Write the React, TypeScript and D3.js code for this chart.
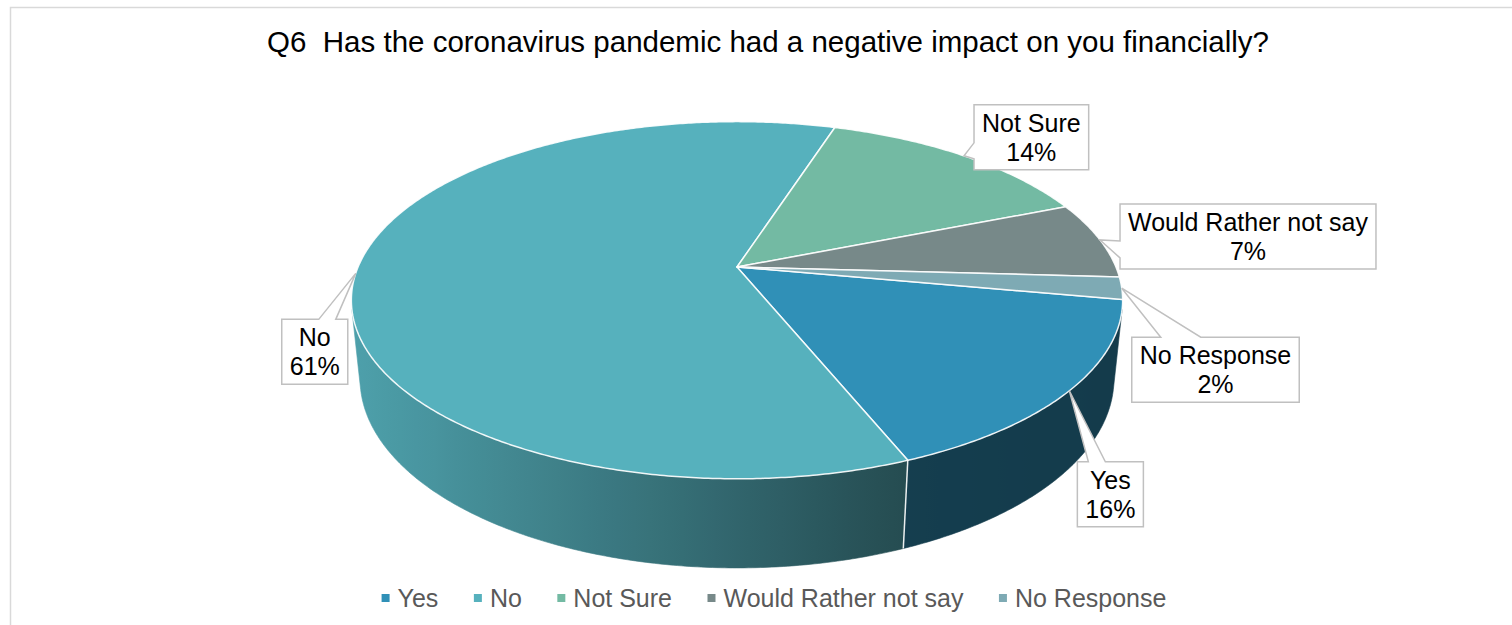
import React, { useMemo } from 'react';
import * as d3 from 'd3';

// ---- data ----
const categories = ['Yes', 'No', 'Not Sure', 'Would Rather not say', 'No Response'];
const percentages = [16, 61, 14, 7, 2];
const sliceColors = ['#3090b7', '#56b1bd', '#73baa3', '#778989', '#7eaab4'];
const titleText = 'Q6  Has the coronavirus pandemic had a negative impact on you financially?';

// ---- layout ----
const W = 1512;
const H = 625;
const CX = 737; // screen position of the pie's centre (top face)
const CY = 267;
const FOCAL = 1815; // perspective camera
const DIST = 4.79;
const SIN_T = 0.455;
const COS_T = Math.sqrt(1 - SIN_T * SIN_T);
const THICK = 0.235; // depth of the disc, in radius units
const START = (100.5 * Math.PI) / 180;
const FONT = '"Liberation Sans", Arial, sans-serif';
const LABEL_SIZE = 25;
const LEGEND_SIZE = 25;

// callout boxes, placed relative to the leader tip on the rim
const calloutLayout = [
  { dx: 8, dy: 71, side: 'top', b0: 11, b1: 28 },
  { dx: -74, dy: 46, side: 'top', b0: 37, b1: 54 },
  { dx: 10, dy: -51, side: 'left', b0: 38, b1: 54 },
  { dx: 20, dy: -36, side: 'left', b0: 37, b1: 54 },
  { dx: 10, dy: 49, side: 'top', b0: 29, b1: 69 },
];

// angle a: 0 = far side, clockwise seen from above; r: radius fraction; y: 0 = top face, negative = below
function project(a: number, y: number, r = 1): [number, number] {
  const X = r * Math.sin(a);
  const Z = -r * Math.cos(a);
  const depth = DIST - (y * SIN_T + Z * COS_T);
  const up = y * COS_T - Z * SIN_T;
  return [CX + (FOCAL * X) / depth, CY - (FOCAL * up) / depth];
}

function rim(a0: number, a1: number, y: number): [number, number][] {
  const n = Math.max(2, Math.ceil(((a1 - a0) * 180) / Math.PI / 0.5));
  const pts: [number, number][] = [];
  for (let i = 0; i <= n; i++) pts.push(project(a0 + ((a1 - a0) * i) / n, y));
  return pts;
}

const toPath = (pts: [number, number][]) =>
  'M' + pts.map((p) => `${p[0].toFixed(2)},${p[1].toFixed(2)}`).join('L') + 'Z';

function measure(text: string, size: number): number {
  const ctx = document.createElement('canvas').getContext('2d');
  if (!ctx) return text.length * size * 0.55;
  ctx.font = `${size}px "Liberation Sans"`;
  return ctx.measureText(text).width;
}

export default function App() {
  const arcs = useMemo(
    () =>
      d3
        .pie<number>()
        .sort(null)
        .value((d) => d)
        .startAngle(START)
        .endAngle(START + 2 * Math.PI)(percentages),
    []
  );

  // visible part of the outer wall
  const visA = Math.acos(-1 / (DIST * COS_T));
  const visB = 2 * Math.PI - visA;
  const radiusX = project(Math.PI / 2, 0)[0] - CX;
  const light = d3.scaleLinear().domain([-1, 0.43, 1]).range([0.9, 0.43, 0.41]).clamp(true);
  const shade = (c: string, f: number) => {
    const r = d3.rgb(c);
    return d3.rgb(r.r * f, r.g * f, r.b * f).formatHex();
  };

  const walls: { key: string; d: string; grad: string; stops: { o: number; c: string }[]; x1: number; x2: number }[] = [];
  const edges: [number, number][][] = [];
  arcs.forEach((arc, i) => {
    [0, 2 * Math.PI].forEach((off) => {
      const lo = Math.max(arc.startAngle, visA + off);
      const hi = Math.min(arc.endAngle, visB + off);
      if (hi > lo) {
        const top = rim(lo, hi, 0);
        const bottom = rim(lo, hi, -THICK).reverse();
        const xs = top.map((p) => p[0]).concat(bottom.map((p) => p[0]));
        const x1 = Math.min(...xs);
        const x2 = Math.max(...xs);
        const stops: { o: number; c: string }[] = [];
        const n = 24;
        for (let k = 0; k <= n; k++) {
          const a = lo + ((hi - lo) * k) / n;
          const sx = project(a, 0)[0];
          stops.push({
            o: x2 > x1 ? (sx - x1) / (x2 - x1) : 0,
            c: shade(sliceColors[i], light((sx - CX) / radiusX)),
          });
        }
        stops.sort((p, q) => p.o - q.o);
        walls.push({ key: `w${i}-${off}`, d: toPath(top.concat(bottom)), grad: `wallGrad${i}${off ? 'b' : 'a'}`, stops, x1, x2 });
      }
      const s = arc.startAngle;
      if (s > visA + off && s < visB + off && off === 0) {
        edges.push([project(s, 0), project(s, -THICK)]);
      }
    });
  });

  const apex = project(0, 0, 0);
  const tops = arcs.map((arc) => toPath([apex, ...rim(arc.startAngle, arc.endAngle, 0)]));

  const callouts = arcs.map((arc, i) => {
    const mid = (arc.startAngle + arc.endAngle) / 2;
    const [tx, ty] = project(mid, 0);
    const lay = calloutLayout[i];
    const lines = [categories[i], `${percentages[i]}%`];
    const w = Math.max(...lines.map((t) => measure(t, LABEL_SIZE))) + 16;
    const h = 65;
    const x = tx + lay.dx;
    const y = ty + lay.dy;
    let d: string;
    if (lay.side === 'top') {
      d = `M${x},${y}L${x + lay.b0},${y}L${tx},${ty}L${x + lay.b1},${y}L${x + w},${y}L${x + w},${y + h}L${x},${y + h}Z`;
    } else {
      d = `M${x},${y}L${x + w},${y}L${x + w},${y + h}L${x},${y + h}L${x},${y + lay.b1}L${tx},${ty}L${x},${y + lay.b0}Z`;
    }
    return { d, x, y, w, lines };
  });

  // legend row
  const markerSize = 8;
  const markerGap = 8;
  const itemGap = 35.5;
  const widths = categories.map((c) => measure(c, LEGEND_SIZE));
  const total = widths.reduce((s, w) => s + markerSize + markerGap + w, 0) + itemGap * (categories.length - 1);
  let lx = 774 - total / 2;
  const legend = categories.map((c, i) => {
    const item = { x: lx, label: c, color: sliceColors[i] };
    lx += markerSize + markerGap + widths[i] + itemGap;
    return item;
  });

  return (
    <svg
      width={W}
      height={H}
      viewBox={`0 0 ${W} ${H}`}
      style={{ position: 'absolute', left: 0, top: 0, background: '#fff' }}
      fontFamily={FONT}
    >
      <defs>
        {walls.map((w) => (
          <linearGradient key={w.grad} id={w.grad} gradientUnits="userSpaceOnUse" x1={w.x1} x2={w.x2} y1={0} y2={0}>
            {w.stops.map((s, k) => (
              <stop key={k} offset={s.o} stopColor={s.c} />
            ))}
          </linearGradient>
        ))}
      </defs>
      <rect x={10.5} y={7.5} width={W + 40} height={H + 40} fill="#fff" stroke="#d9d9d9" strokeWidth={1.5} />

      <text x={768} y={52} textAnchor="middle" fontSize={29.5} fill="#000" xmlSpace="preserve" style={{ whiteSpace: 'pre' }}>
        {titleText}
      </text>

      {walls.map((w) => (
        <path key={w.key} d={w.d} fill={`url(#${w.grad})`} stroke={`url(#${w.grad})`} strokeWidth={0.6} />
      ))}
      {edges.map((e, i) => (
        <line key={i} x1={e[0][0]} y1={e[0][1]} x2={e[1][0]} y2={e[1][1]} stroke="#fff" strokeWidth={1.5} strokeOpacity={0.9} />
      ))}
      {tops.map((d, i) => (
        <path key={i} d={d} fill={sliceColors[i]} stroke="#fff" strokeWidth={1.5} strokeOpacity={0.9} strokeLinejoin="round" />
      ))}

      {callouts.map((c, i) => (
        <g key={i}>
          <path d={c.d} fill="#fff" stroke="#c0c0c0" strokeWidth={1.5} />
          {c.lines.map((t, k) => (
            <text key={k} x={c.x + c.w / 2} y={c.y + 27 + k * 29} textAnchor="middle" fontSize={LABEL_SIZE} fill="#000">
              {t}
            </text>
          ))}
        </g>
      ))}

      {legend.map((it, i) => (
        <g key={i}>
          <rect x={it.x} y={594} width={markerSize} height={markerSize} fill={it.color} />
          <text x={it.x + markerSize + markerGap} y={607} fontSize={LEGEND_SIZE} fill="#595959">
            {it.label}
          </text>
        </g>
      ))}
    </svg>
  );
}
